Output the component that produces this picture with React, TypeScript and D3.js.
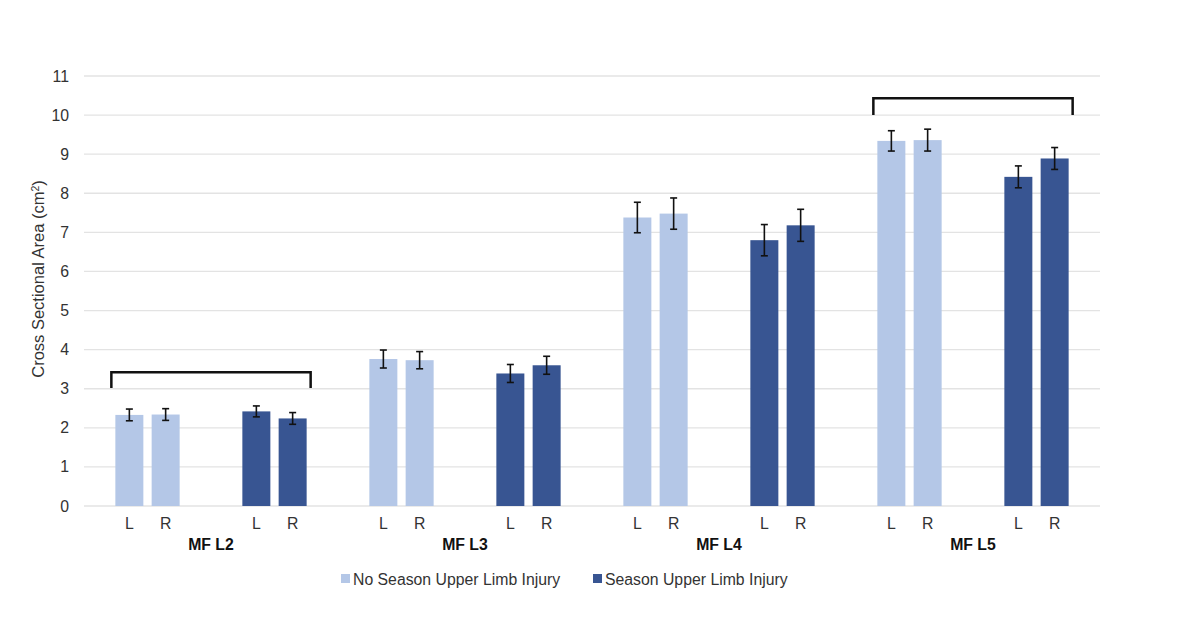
import React from "react";
import * as d3 from "d3";

const groups = ["MF L2", "MF L3", "MF L4", "MF L5"];
const sides = ["L", "R"];
const seriesNames = ["No Season Upper Limb Injury", "Season Upper Limb Injury"];
const seriesColors = ["#b4c7e7", "#385592"];
// values [group][side]
const noInjury = [
  [2.33, 2.34],
  [3.76, 3.73],
  [7.38, 7.48],
  [9.34, 9.36],
];
const noInjuryErr = [
  [0.15, 0.15],
  [0.23, 0.22],
  [0.39, 0.4],
  [0.26, 0.28],
];
const injury = [
  [2.42, 2.24],
  [3.39, 3.6],
  [6.8, 7.18],
  [8.42, 8.89],
];
const injuryErr = [
  [0.14, 0.15],
  [0.23, 0.23],
  [0.4, 0.41],
  [0.28, 0.28],
];
const yTicks = d3.range(0, 12);
const brackets = [
  { group: 0, y: 3.42, drop: 0.4 },
  { group: 3, y: 10.43, drop: 0.43 },
];

const W = 1200;
const H = 620;
const left = 84;
const right = 1100;
const top = 76;
const bottom = 506;
const font = "'Liberation Sans', Arial, sans-serif";
const fs = 15.8;

export default function App() {
  const x = d3.scaleBand<string>().domain(groups).range([left, right]);
  const inner = d3.scaleLinear().domain([-1.25, 5.75]).range([0, x.bandwidth()]);
  const innerPos = [[0, 1], [3.5, 4.5]];
  const y = d3.scaleLinear().domain([0, 11]).range([bottom, top]);
  const barW = 28;
  const capW = 7;

  const bars: any[] = [];
  groups.forEach((g, gi) => {
    [noInjury, injury].forEach((ser, si) => {
      const errs = si === 0 ? noInjuryErr : injuryErr;
      sides.forEach((s, k) => {
        const cx = (x(g) as number) + inner(innerPos[si][k]);
        bars.push({ g, gi, si, k, s, cx, v: ser[gi][k], e: errs[gi][k] });
      });
    });
  });

  return (
    <svg width={W} height={H} style={{ position: "absolute", left: 0, top: 0, background: "#fff" }} fontFamily={font}>
      <rect width={W} height={H} fill="#fff" />
      {yTicks.map((t) => (
        <g key={t}>
          <line x1={left} x2={right} y1={y(t)} y2={y(t)} stroke="#e3e3e3" strokeWidth={1.3} />
          <text x={69} y={y(t)} dy="0.35em" textAnchor="end" fontSize={fs} fill="#333">
            {t}
          </text>
        </g>
      ))}
      <text
        transform={`translate(38,279) rotate(-90)`}
        textAnchor="middle"
        dy="0.35em"
        fontSize={16.5}
        fill="#333"
      >
        Cross Sectional Area (cm<tspan dy="-5" fontSize={10.5}>2</tspan><tspan dy="5">)</tspan>
      </text>
      {bars.map((b, i) => (
        <g key={i}>
          <rect x={b.cx - barW / 2} y={y(b.v)} width={barW} height={y(0) - y(b.v)} fill={seriesColors[b.si]} />
          <line x1={b.cx} x2={b.cx} y1={y(b.v + b.e)} y2={y(b.v - b.e)} stroke="#111" strokeWidth={1.6} />
          <line x1={b.cx - capW / 2} x2={b.cx + capW / 2} y1={y(b.v + b.e)} y2={y(b.v + b.e)} stroke="#111" strokeWidth={1.6} />
          <line x1={b.cx - capW / 2} x2={b.cx + capW / 2} y1={y(b.v - b.e)} y2={y(b.v - b.e)} stroke="#111" strokeWidth={1.6} />
          <text x={b.cx} y={523} dy="0.35em" textAnchor="middle" fontSize={fs} fill="#333">
            {b.s}
          </text>
        </g>
      ))}
      {groups.map((g) => (
        <text key={g} x={(x(g) as number) + x.bandwidth() / 2} y={544} dy="0.35em" textAnchor="middle" fontSize={fs} fontWeight="bold" fill="#111">
          {g}
        </text>
      ))}
      {brackets.map((br, i) => {
        const g = groups[br.group];
        const x0 = (x(g) as number) + inner(innerPos[0][0]) - barW / 2 - 4;
        const x1 = (x(g) as number) + inner(innerPos[1][1]) + barW / 2 + 4;
        return (
          <path
            key={i}
            d={`M${x0},${y(br.y - br.drop)}V${y(br.y)}H${x1}V${y(br.y - br.drop)}`}
            fill="none"
            stroke="#111"
            strokeWidth={2.5}
          />
        );
      })}
      {seriesNames.map((n, i) => {
        const lx = i === 0 ? 341 : 593;
        return (
          <g key={n}>
            <rect x={lx} y={574} width={9} height={9} fill={seriesColors[i]} />
            <text x={lx + 12} y={579} dy="0.35em" fontSize={fs} fill="#333">
              {n}
            </text>
          </g>
        );
      })}
    </svg>
  );
}
